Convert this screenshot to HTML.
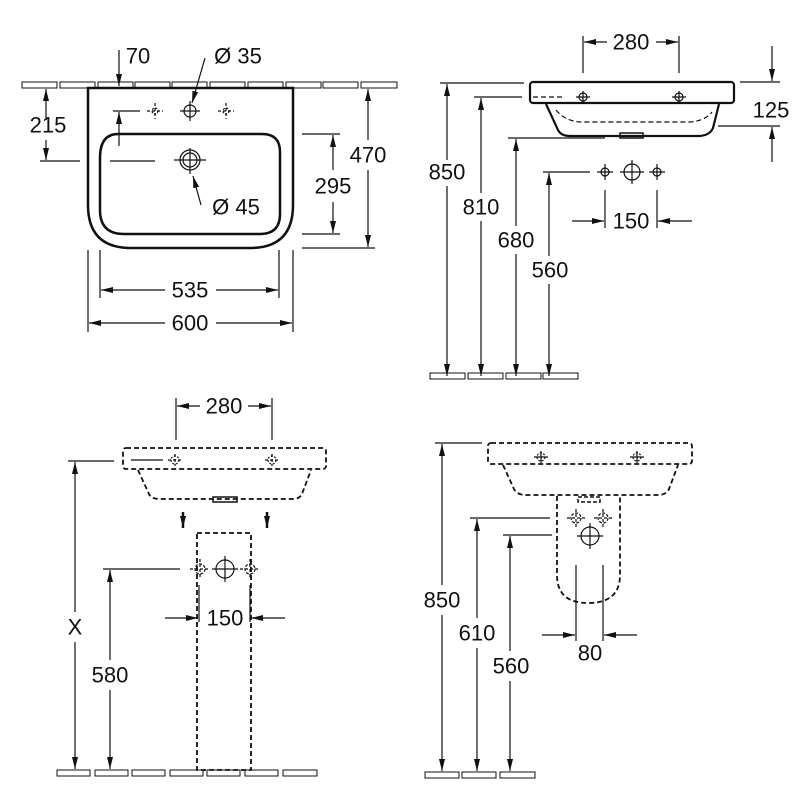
<!DOCTYPE html>
<html><head><meta charset="utf-8"><style>
html,body{margin:0;padding:0;background:#fff;}
svg{display:block;}
text{font-family:"Liberation Sans",sans-serif;font-size:22px;fill:#111;text-anchor:middle;dominant-baseline:central;}
</style></head><body>
<svg width="800" height="800" viewBox="0 0 800 800" xmlns="http://www.w3.org/2000/svg">
<defs>
<marker id="a" viewBox="0 0 12 6" refX="12" refY="3" markerWidth="12" markerHeight="6" markerUnits="userSpaceOnUse" orient="auto"><path d="M0,0L12,3L0,6z" fill="#111"/></marker>
</defs>
<g stroke="#111" fill="none" stroke-width="1.2">
<!-- ===== Q1 ===== -->
<g stroke-width="1">
<rect x="22" y="82" width="35" height="6"/><rect x="60" y="82" width="35" height="6"/><rect x="98" y="82" width="35" height="6"/><rect x="135" y="82" width="35" height="6"/><rect x="172" y="82" width="35" height="6"/><rect x="210" y="82" width="35" height="6"/><rect x="248" y="82" width="35" height="6"/><rect x="286" y="82" width="35" height="6"/><rect x="323" y="82" width="35" height="6"/><rect x="361" y="82" width="36" height="6"/>
</g>
<path d="M88,88 H293 V205 Q293,248 250,248 H131 Q88,248 88,205 Z" stroke-width="2.5" fill="#fff"/>
<path d="M118,134 H262 Q280,134 280,152 V214 Q280,234 260,234 H124 Q100,234 100,210 V158 Q100,134 118,134 Z" stroke-width="2.5"/>
<!-- taps -->
<circle cx="190" cy="111" r="6"/><path d="M180,111H200M190,101V121"/>
<circle cx="155" cy="111" r="3" stroke-dasharray="2 1.5"/><path d="M147,111H163M155,103V119" stroke-dasharray="3 2"/>
<circle cx="226" cy="111" r="3" stroke-dasharray="2 1.5"/><path d="M218,111H234M226,103V119" stroke-dasharray="3 2"/>
<circle cx="190" cy="160" r="7"/><circle cx="190" cy="160" r="10"/><path d="M174,160H206M190,148V174"/>
<!-- 70 -->
<path d="M119,50V86" marker-end="url(#a)"/>
<text x="138" y="56" stroke="none">70</text>
<!-- Ø35 -->
<path d="M205,58L192,103" marker-end="url(#a)"/>
<text x="238" y="56" stroke="none">Ø 35</text>
<!-- 215 -->
<path d="M40,161H80M110,161H155M113,111H140"/>
<path d="M46,120V89" marker-end="url(#a)"/><path d="M46,140V160" marker-end="url(#a)"/>
<path d="M119,146V112" marker-end="url(#a)"/>
<text x="48" y="125" stroke="none">215</text>
<!-- Ø45 -->
<path d="M201,205L193,176" marker-end="url(#a)"/>
<text x="236" y="207" stroke="none">Ø 45</text>
<!-- 295 -->
<path d="M302,134H340M302,234H340"/>
<path d="M333,170V135" marker-end="url(#a)"/><path d="M333,202V233" marker-end="url(#a)"/>
<text x="333" y="186" stroke="none">295</text>
<!-- 470 -->
<path d="M302,248H375"/>
<path d="M368,140V89" marker-end="url(#a)"/><path d="M368,170V247" marker-end="url(#a)"/>
<text x="368" y="155" stroke="none">470</text>
<!-- 535 -->
<path d="M100,250V298M279,250V298"/>
<path d="M165,290H101" marker-end="url(#a)"/><path d="M216,290H278" marker-end="url(#a)"/>
<text x="190" y="290" stroke="none">535</text>
<!-- 600 -->
<path d="M88,250V332M293,250V332"/>
<path d="M165,323H89" marker-end="url(#a)"/><path d="M216,323H292" marker-end="url(#a)"/>
<text x="190" y="323" stroke="none">600</text>

<!-- ===== Q2 ===== -->
<path d="M583,36V73M679,36V73"/>
<path d="M607,42H584" marker-end="url(#a)"/><path d="M656,42H678" marker-end="url(#a)"/>
<text x="631" y="42" stroke="none">280</text>
<rect x="530" y="82" width="204" height="21" rx="3" stroke-width="2.2"/>
<path d="M546,104L558,130Q561,136 570,136H700Q710,135 713,128L719,104" stroke-width="2.2"/>
<rect x="620" y="133" width="23" height="5" stroke-width="1.5"/>
<path d="M533,97H565M556,110Q565,121 580,122H690Q705,121 712,112" stroke-dasharray="5 3"/>
<circle cx="583" cy="97" r="4"/><path d="M576,97H590M583,91V103"/>
<circle cx="679" cy="97" r="4"/><path d="M672,97H686M679,91V103"/>
<!-- 125 -->
<path d="M740,82H780M718,126H780"/>
<path d="M772,46V81" marker-end="url(#a)"/><path d="M772,162V127" marker-end="url(#a)"/>
<text x="771" y="110" stroke="none">125</text>
<!-- verticals -->
<path d="M440,83H524M474,97H522M508,138H605M543,172H590"/>
<path d="M447,160V84" marker-end="url(#a)"/><path d="M447,186V376" marker-end="url(#a)"/>
<text x="447" y="172" stroke="none">850</text>
<path d="M481,193V98" marker-end="url(#a)"/><path d="M481,221V376" marker-end="url(#a)"/>
<text x="481" y="207" stroke="none">810</text>
<path d="M516,226V139" marker-end="url(#a)"/><path d="M516,254V376" marker-end="url(#a)"/>
<text x="516" y="240" stroke="none">680</text>
<path d="M549,256V173" marker-end="url(#a)"/><path d="M549,284V376" marker-end="url(#a)"/>
<text x="550" y="270" stroke="none">560</text>
<g stroke-width="1">
<rect x="430" y="373" width="35" height="6"/><rect x="468" y="373" width="35" height="6"/><rect x="506" y="373" width="35" height="6"/><rect x="543" y="373" width="35" height="6"/>
</g>
<circle cx="605" cy="172" r="4"/><path d="M597,172H613M605,164V180"/>
<circle cx="632" cy="172" r="8"/><path d="M620,172H644M632,160V184"/>
<circle cx="657" cy="172" r="4"/><path d="M649,172H665M657,164V180"/>
<path d="M605,190V228M657,190V228"/>
<path d="M572,221H604" marker-end="url(#a)"/><path d="M692,221H658" marker-end="url(#a)"/>
<text x="631" y="221" stroke="none">150</text>

<!-- ===== Q3 ===== -->
<path d="M176,398V440M272,398V440"/>
<path d="M200,406H177" marker-end="url(#a)"/><path d="M248,406H271" marker-end="url(#a)"/>
<text x="224" y="406" stroke="none">280</text>
<g stroke-dasharray="5 3" stroke-width="1.8">
<rect x="123" y="448" width="203" height="21" rx="3"/>
<path d="M138,470L149,494Q151,499 160,499H295Q300,498 302,494L311,470"/>
<rect x="197" y="533" width="54" height="237"/>
</g>
<rect x="213" y="497" width="24" height="5" stroke-width="1.5"/>
<path d="M131,460H163"/>
<circle cx="175" cy="460" r="4" stroke-dasharray="2 1.5"/><path d="M168,460H182M175,454V466" stroke-dasharray="3 2"/>
<circle cx="272" cy="460" r="4" stroke-dasharray="2 1.5"/><path d="M265,460H279M272,454V466" stroke-dasharray="3 2"/>
<path d="M183,512V528" stroke-width="2.5" marker-end="url(#a)"/><path d="M267,512V528" stroke-width="2.5" marker-end="url(#a)"/>
<path d="M68,461H114"/>
<path d="M75,612V462" marker-end="url(#a)"/><path d="M75,642V769" marker-end="url(#a)"/>
<text x="75" y="627" stroke="none">X</text>
<path d="M103,569H180"/>
<path d="M110,660V570" marker-end="url(#a)"/><path d="M110,690V769" marker-end="url(#a)"/>
<text x="110" y="675" stroke="none">580</text>
<circle cx="200" cy="569" r="5" stroke-dasharray="3 1.5"/><path d="M190,569H210M200,559V579" stroke-dasharray="3 2"/>
<circle cx="225" cy="569" r="9"/><path d="M212,569H238M225,556V582"/>
<circle cx="250" cy="569" r="5" stroke-dasharray="3 1.5"/><path d="M240,569H260M250,559V579" stroke-dasharray="3 2"/>
<path d="M199,585V622M250,585V622"/>
<path d="M165,618H198" marker-end="url(#a)"/><path d="M285,618H251" marker-end="url(#a)"/>
<text x="225" y="618" stroke="none">150</text>
<g stroke-width="1">
<rect x="57" y="770" width="33" height="6"/><rect x="95" y="770" width="33" height="6"/><rect x="132" y="770" width="33" height="6"/><rect x="170" y="770" width="33" height="6"/><rect x="207" y="770" width="33" height="6"/><rect x="245" y="770" width="33" height="6"/><rect x="283" y="770" width="34" height="6"/>
</g>

<!-- ===== Q4 ===== -->
<g stroke-dasharray="5 3" stroke-width="1.8">
<rect x="488" y="443" width="204" height="21" rx="3"/>
<path d="M503,465L514,489Q517,495 526,495H660Q667,494 669,489L678,465"/>
<path d="M557,496V575Q557,603 588,603Q620,603 620,575V496"/>
</g>
<rect x="578" y="497" width="22" height="5" stroke-width="1.5" stroke-dasharray="4 2"/>
<circle cx="541" cy="457" r="4" stroke-dasharray="2 1.5"/><path d="M534,457H548M541,451V463"/>
<circle cx="637" cy="457" r="4" stroke-dasharray="2 1.5"/><path d="M630,457H644M637,451V463"/>
<circle cx="576" cy="518" r="5" stroke-dasharray="3 1.5"/><path d="M567,518H585M576,509V527" stroke-dasharray="3 2"/>
<circle cx="603" cy="518" r="5" stroke-dasharray="3 1.5"/><path d="M594,518H612M603,509V527" stroke-dasharray="3 2"/>
<circle cx="590" cy="536" r="9"/><path d="M577,536H603M590,523V549"/>
<path d="M576,565V641M603,565V641"/>
<path d="M542,635H575" marker-end="url(#a)"/><path d="M637,635H604" marker-end="url(#a)"/>
<text x="590" y="653" stroke="none">80</text>
<path d="M435,443H482M470,518H550M503,535H552"/>
<path d="M442,585V444" marker-end="url(#a)"/><path d="M442,615V771" marker-end="url(#a)"/>
<text x="442" y="600" stroke="none">850</text>
<path d="M477,618V519" marker-end="url(#a)"/><path d="M477,648V771" marker-end="url(#a)"/>
<text x="477" y="633" stroke="none">610</text>
<path d="M510,651V536" marker-end="url(#a)"/><path d="M510,681V771" marker-end="url(#a)"/>
<text x="511" y="666" stroke="none">560</text>
<g stroke-width="1">
<rect x="425" y="772" width="34" height="6"/><rect x="462" y="772" width="34" height="6"/><rect x="500" y="772" width="35" height="6"/>
</g>
</g>
</svg>
</body></html>
